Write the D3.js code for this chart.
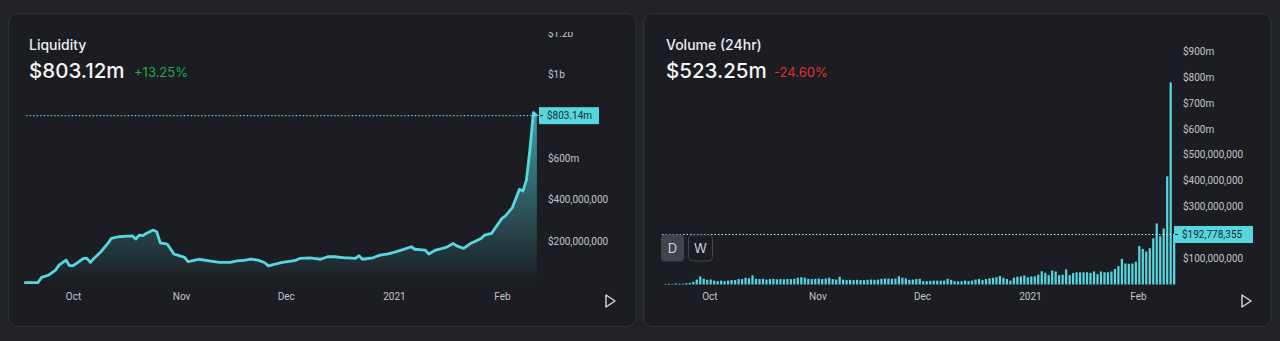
<!DOCTYPE html>
<html><head><meta charset="utf-8">
<script src="https://cdn.jsdelivr.net/npm/d3@7"></script>
<style>
html,body{margin:0;padding:0;background:#212329;}
svg{display:block;font-family:Inter,"Noto Sans",sans-serif;}
</style></head>
<body><svg id="c" width="1280" height="341"></svg>
<script>
// ---------- DATA ----------
const liqDates = ["2020-09-17","2020-09-21","2020-09-22","2020-09-24","2020-09-26","2020-09-27","2020-09-29","2020-09-30",
"2020-10-01","2020-10-02","2020-10-04","2020-10-05","2020-10-06","2020-10-07","2020-10-09","2020-10-11","2020-10-12","2020-10-14",
"2020-10-18","2020-10-19","2020-10-20","2020-10-21","2020-10-22","2020-10-24","2020-10-25","2020-10-26","2020-10-28","2020-10-30","2020-10-31",
"2020-11-02","2020-11-03","2020-11-05","2020-11-06","2020-11-09","2020-11-12","2020-11-15","2020-11-17","2020-11-19","2020-11-21","2020-11-23",
"2020-11-25","2020-11-26","2020-11-28","2020-11-30","2020-12-03","2020-12-04","2020-12-05","2020-12-08","2020-12-09","2020-12-11","2020-12-13",
"2020-12-15","2020-12-18","2020-12-19","2020-12-21","2020-12-22","2020-12-23","2020-12-26","2020-12-28","2020-12-30","2021-01-01","2021-01-04",
"2021-01-06","2021-01-07","2021-01-10","2021-01-11","2021-01-13","2021-01-16","2021-01-18","2021-01-19","2021-01-21","2021-01-23","2021-01-26",
"2021-01-27","2021-01-29","2021-01-30","2021-02-01","2021-02-02","2021-02-04","2021-02-06","2021-02-07","2021-02-08","2021-02-09","2021-02-10","2021-02-11"];
const liqValues = [2,2,27,38,62,86,110,83,
83,94,118,118,99,118,150,190,214,222,
226,211,230,227,238,254,246,193,187,138,134,
123,102,110,114,106,99,99,106,109,115,110,
97,82,91,99,106,110,118,121,118,114,126,
126,121,121,118,131,114,121,134,139,147,163,
174,162,158,139,158,171,190,178,166,190,214,
230,238,262,310,322,363,450,442,494,640,818,803.14]; // $m

const volStart = "2020-09-18";
const volValues = [2,3,2,4,3,3,5,6,
10,19,31,22,18,19,
15,13,15,13,15,17,17,21,21,26,
24,35,22,
21,22,19,21,22,20,21,20,21,
21,22,26,28,26,22,21,22,23,21,23,26,21,19,30,19,
17,18,17,18,17,17,18,19,18,19,
22,23,23,22,23,32,26,24,18,19,21,22,
13,13,14,15,15,15,15,22,18,13,12,13,15,13,15,19,21,17,21,24,26,28,33,26,21,15,26,30,31,35,28,31,32,38,
51,45,36,54,50,36,38,58,36,44,47,47,47,47,45,50,40,50,47,47,50,60,71,99,81,80,81,88,
148,137,127,140,178,235,186,216,417,779,192.778355]; // $m

const xTickDates = ["2020-10-01","2020-11-01","2020-12-01","2021-01-01","2021-02-01"];
const xTickLabels = ["Oct","Nov","Dec","2021","Feb"];
const liqTickValues = [200,400,600,1000,1200];
const liqTickLabels = ["$200,000,000","$400,000,000","$600m","$1b","$1.2b"];
const volTickValues = [100,300,400,500,600,700,800,900];
const volTickLabels = ["$100,000,000","$300,000,000","$400,000,000","$500,000,000","$600m","$700m","$800m","$900m"];

const liqTitle = "Liquidity", liqHeadline = "$803.12m", liqChange = "+13.25%", liqCurrentLabel = "$803.14m", liqCurrent = 803.14;
const volTitle = "Volume (24hr)", volHeadline = "$523.25m", volChange = "-24.60%", volCurrentLabel = "$192,778,355", volCurrent = 192.778355;

// ---------- DRAW ----------
const parse = d3.timeParse("%Y-%m-%d");
const TEAL = "#56d6df", TXT = "#c3c5cb";
const svg = d3.select("#c");
const defs = svg.append("defs");

// cards
[[8.5,13.5],[643.5,13.5]].forEach(([x,y])=>{
  svg.append("rect").attr("x",x).attr("y",y).attr("width",627.5).attr("height",313)
    .attr("rx",9).attr("fill","#1b1d22").attr("stroke","#2e3138").attr("stroke-width",1.2);
});

function header(x, title, headline, change, color, chX){
  svg.append("text").attr("x",x).attr("y",50).attr("fill","#eceef2").attr("font-size",14).attr("font-weight",500).text(title);
  svg.append("text").attr("x",x).attr("y",78).attr("fill","#f4f5f7").attr("font-size",20.5).attr("font-weight",500).text(headline);
  svg.append("text").attr("x",chX).attr("y",77).attr("fill",color).attr("font-size",13).text(change);
}
header(29, liqTitle, liqHeadline, liqChange, "#27a844", 134);
header(666, volTitle, volHeadline, volChange, "#e02f2f", 774);

function xAxis(x, y0){
  const g = svg.append("g").attr("transform",`translate(0,${y0})`)
    .call(d3.axisBottom(x).tickValues(xTickDates.map(parse)).tickSize(0).tickPadding(0)
      .tickFormat((d,i)=>xTickLabels[i]));
  g.select(".domain").remove();
  g.selectAll("text").attr("fill",TXT).attr("font-size",10).attr("font-family","Roboto,sans-serif").attr("dy","0.32em");
}
function yAxis(parent, y, x0, vals, labels){
  const g = parent.append("g").attr("transform",`translate(${x0},0)`)
    .call(d3.axisRight(y).tickValues(vals).tickSize(0).tickPadding(0).tickFormat((d,i)=>labels[i]));
  g.select(".domain").remove();
  g.selectAll("text").attr("fill",TXT).attr("font-size",10).attr("font-family","Roboto,sans-serif").attr("text-anchor","start");
  return g;
}
function triangle(cx, cy){
  svg.append("path").attr("d",`M${cx-4},${cy-6}L${cx+5},${cy}L${cx-4},${cy+6}Z`)
    .attr("fill","none").attr("stroke","#d7d9de").attr("stroke-width",1.4).attr("stroke-linejoin","round");
}
function priceTag(x, y, w, label){
  svg.append("rect").attr("x",x).attr("y",y-8.5).attr("width",w).attr("height",17).attr("fill",TEAL);
  svg.append("line").attr("x1",x+1).attr("x2",x+4).attr("y1",y).attr("y2",y).attr("stroke","#1b1d22").attr("stroke-width",1);
  svg.append("text").attr("x",x+8).attr("y",y).attr("dy","0.34em").attr("fill","#1f2a30")
    .attr("font-size",10).attr("font-family","Roboto,sans-serif").text(label);
}

// ----- Liquidity -----
const lx = d3.scaleTime().domain([parse("2020-10-01"), parse("2021-02-01")]).range([73, 502]);
const ly = d3.scaleLinear().domain([0, 1200]).range([283, 33]);
const liq = liqDates.map((d,i)=>({date:parse(d), v:liqValues[i]}));

const grad = defs.append("linearGradient").attr("id","lg").attr("gradientUnits","userSpaceOnUse")
  .attr("x1",0).attr("x2",0).attr("y1",ly(830)).attr("y2",ly(0));
grad.append("stop").attr("offset",0).attr("stop-color",TEAL).attr("stop-opacity",0.7);
grad.append("stop").attr("offset",1).attr("stop-color",TEAL).attr("stop-opacity",0.0);

svg.append("path").datum(liq).attr("fill","url(#lg)")
  .attr("d", d3.area().x(d=>lx(d.date)).y0(ly(0)).y1(d=>ly(d.v)));
svg.append("path").datum(liq).attr("fill","none").attr("stroke",TEAL).attr("stroke-width",2.8)
  .attr("stroke-linejoin","round").attr("d", d3.line().x(d=>lx(d.date)).y(d=>ly(d.v)));

defs.append("clipPath").attr("id","lclip").append("rect").attr("x",500).attr("y",32).attr("width",130).attr("height",280);
const clipG = svg.append("g").attr("clip-path","url(#lclip)");
yAxis(clipG, ly, 548, liqTickValues, liqTickLabels);
xAxis(lx, 297);

svg.append("line").attr("x1",lx(liq[0].date)+2).attr("x2",539).attr("y1",ly(liqCurrent)).attr("y2",ly(liqCurrent))
  .attr("stroke","#8fe4ea").attr("stroke-width",1).attr("stroke-dasharray","1.5,2");
priceTag(539, ly(liqCurrent), 60, liqCurrentLabel);
triangle(610, 301);

// ----- Volume -----
const vx = d3.scaleTime().domain([parse("2020-10-01"), parse("2021-02-01")]).range([709.4, 1138]);
const vy = d3.scaleLinear().domain([0, 900]).range([284.5, 51]);
const dayW = vx(parse("2020-10-02")) - vx(parse("2020-10-01"));
const s0 = parse(volStart);
const vol = volValues.map((v,i)=>({date:d3.timeDay.offset(s0,i), v}));

svg.append("g").selectAll("rect").data(vol).join("rect")
  .attr("x", d=>vx(d.date)+0.2).attr("width", dayW*0.64)
  .attr("y", d=>vy(d.v)).attr("height", d=>vy(0)-vy(d.v)).attr("fill",TEAL);

yAxis(svg, vy, 1183, volTickValues, volTickLabels);
xAxis(vx, 297);

svg.append("line").attr("x1",662).attr("x2",1174).attr("y1",vy(volCurrent)).attr("y2",vy(volCurrent))
  .attr("stroke","#b9eef2").attr("stroke-width",1).attr("stroke-dasharray","1.5,2");
priceTag(1174, vy(volCurrent), 79, volCurrentLabel);
triangle(1246, 301);

// D / W buttons
svg.append("rect").attr("x",661).attr("y",234.5).attr("width",23).attr("height",27).attr("rx",4).attr("fill","#40444f");
svg.append("rect").attr("x",688.5).attr("y",235).attr("width",24).attr("height",26).attr("rx",4).attr("fill","none").attr("stroke","#40444f");
svg.append("text").attr("x",672.5).attr("y",248).attr("dy","0.35em").attr("text-anchor","middle").attr("fill","#d0d2d7").attr("font-size",13).text("D");
svg.append("text").attr("x",700.5).attr("y",248).attr("dy","0.35em").attr("text-anchor","middle").attr("fill","#d0d2d7").attr("font-size",13).text("W");
</script></body></html>
